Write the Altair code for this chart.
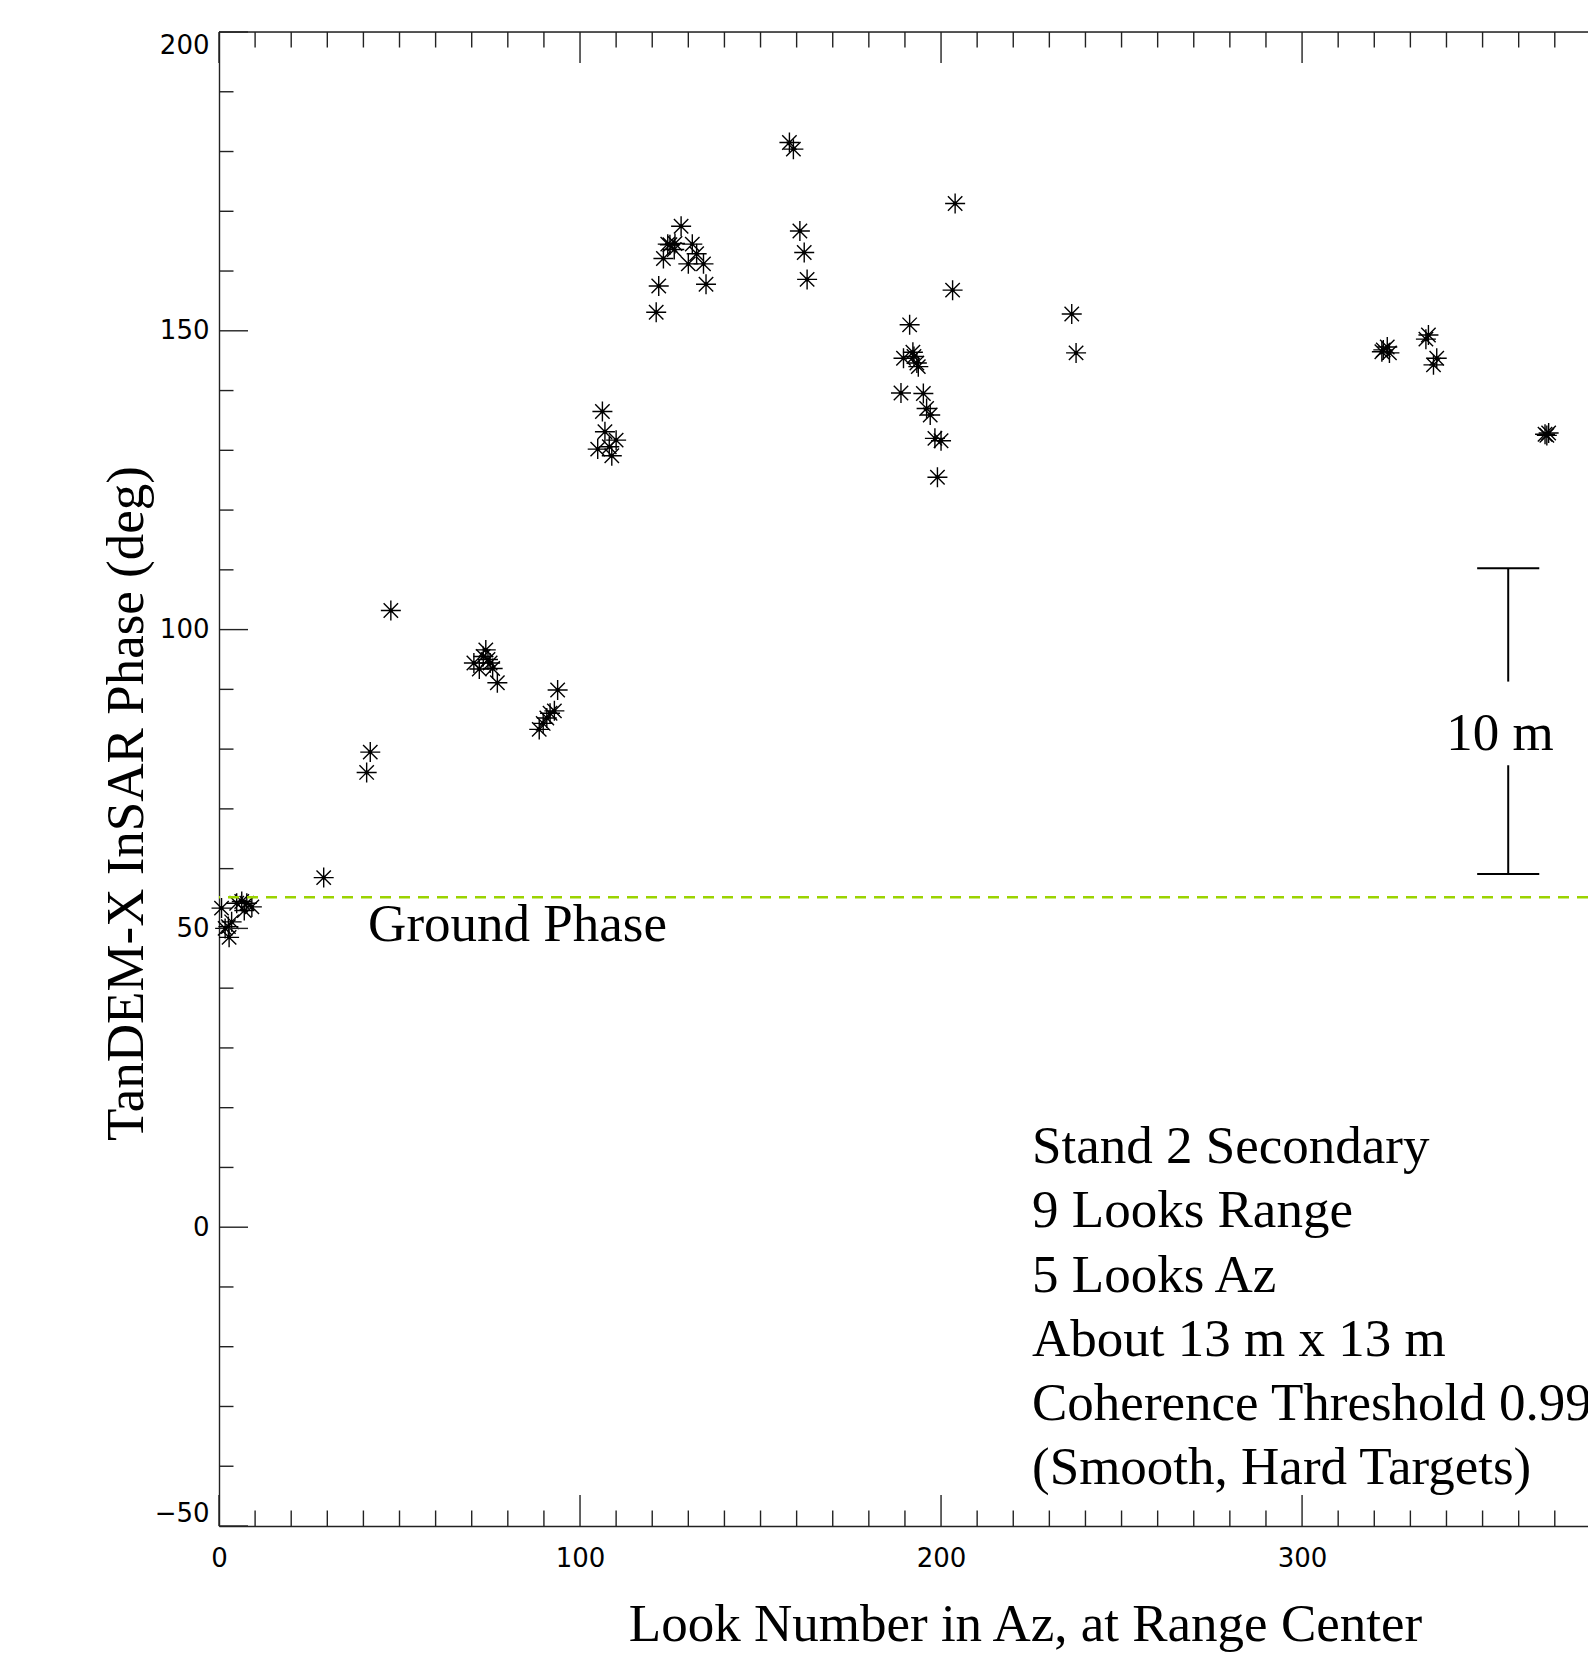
import altair as alt
import pandas as pd

# Look number (azimuth) and InSAR phase (deg) of the coherent looks
look_number = [
    0.7, 4.9, 6.3, 7.7, 9.1, 7.0, 3.5, 1.7, 2.6, 2.8,
    29.0, 40.9, 41.9, 47.6,
    73.9, 73.2, 70.6, 72.1, 75.1, 75.8, 77.1, 74.5,
    93.8, 92.9, 91.7, 90.8, 89.8, 88.7,
    106.2, 106.9, 110.0, 108.1, 104.9, 108.8,
    128.0, 124.3, 124.9, 126.3, 126.1, 131.1, 132.3, 130.0, 134.2, 123.1, 121.8, 134.9, 121.1,
    158.0, 159.1, 160.9, 162.1, 162.9,
    203.9, 203.2, 191.3, 192.2, 189.6, 193.3, 192.5, 193.7, 188.9, 195.1, 196.0, 197.0, 198.3, 200.0, 199.0,
    236.2, 237.4,
    322.5, 323.6, 324.2, 322.1, 335.0, 334.3, 337.3, 336.4,
    367.3, 367.8, 368.3,
]
phase_deg = [
    53.4, 54.2, 54.5, 54.2, 53.6, 53.0, 51.1, 50.0, 50.3, 48.5,
    58.5, 76.1, 79.5, 103.2,
    96.6, 95.5, 94.4, 93.4, 94.4, 93.5, 91.1, 95.0,
    89.9, 86.4, 86.0, 85.2, 84.3, 83.3,
    136.5, 133.1, 131.7, 130.6, 130.2, 129.1,
    167.5, 164.5, 164.4, 164.6, 163.6, 164.5, 162.9, 161.2, 161.2, 162.1, 157.5, 157.8, 153.1,
    181.5, 180.4, 166.7, 163.1, 158.6,
    171.3, 156.8, 151.0, 146.4, 145.4, 144.6, 145.7, 144.0, 139.6, 139.5, 137.0, 135.9, 132.0, 131.6, 125.5,
    152.8, 146.3,
    146.8, 147.3, 146.3, 146.5, 149.3, 148.6, 145.4, 144.3,
    132.7, 132.5, 132.9,
]

GROUND_PHASE = 55.2

# 10 m height bar (phase units)
bar_x = 357.1
bar_cap_half = 8.6
bar_top, bar_bottom = 110.25, 59.1
bar_gap_top, bar_gap_bottom = 91.3, 77.3

info_lines = [
    "Stand 2 Secondary",
    "9 Looks Range",
    "5 Looks Az",
    "About 13 m x 13 m",
    "Coherence Threshold 0.99",
    "(Smooth, Hard Targets)",
]

x_major = [0, 100, 200, 300]
x_minor = [v for v in range(10, 380, 10) if v % 100 != 0]
y_major = [-50, 0, 50, 100, 150, 200]
y_minor = [v for v in range(-40, 200, 10) if v % 50 != 0]

X_MAX = 379.2
W, H = 1369, 1494
INK = "#000000"
AXIS_INK = "#222222"
SERIF = "Liberation Serif"
SANS = "DejaVu Sans"
TEXT_SIZE = 53
TICK_SIZE = 26

xs = alt.Scale(domain=[0, X_MAX], nice=False, zero=False)
ys = alt.Scale(domain=[-50, 200], nice=False, zero=False)

STAR = "M-1,0L1,0M0,-1L0,1M-0.72,-0.72L0.72,0.72M-0.72,0.72L0.72,-0.72"

pts = pd.DataFrame({"look": look_number, "phase": phase_deg})

x_axis = alt.Axis(
    values=x_major, ticks=False, grid=False, domain=True,
    domainColor=AXIS_INK, domainWidth=1.4,
    labelFont=SANS, labelFontSize=TICK_SIZE, labelColor=INK, labelPadding=19,
    labelFlush=False,
    title="Look Number in Az, at Range Center",
    titleFont=SERIF, titleFontSize=TEXT_SIZE, titleFontWeight="normal", titleColor=INK,
    titleX=806, titleY=114, titleAlign="center", titleBaseline="alphabetic",
)
y_axis = alt.Axis(
    values=y_major, ticks=False, grid=False, domain=True,
    domainColor=AXIS_INK, domainWidth=1.4,
    labelFont=SANS, labelFontSize=TICK_SIZE, labelColor=INK, labelPadding=10,
    labelFlush=True,
    title="TanDEM-X InSAR Phase (deg)",
    titleFont=SERIF, titleFontSize=TEXT_SIZE, titleFontWeight="normal", titleColor=INK,
    titleX=-77, titleY=771, titleAngle=270, titleAlign="center",
    titleBaseline="alphabetic",
)

stars = alt.Chart(pts).mark_point(
    shape=STAR, filled=False, size=400, stroke=INK, strokeWidth=1.4, opacity=1
).encode(
    x=alt.X("look:Q", scale=xs, axis=x_axis),
    y=alt.Y("phase:Q", scale=ys, axis=y_axis),
)
centers = alt.Chart(pts).mark_point(
    shape="circle", filled=True, size=16, color=INK, opacity=1
).encode(
    x=alt.X("look:Q", scale=xs, axis=None),
    y=alt.Y("phase:Q", scale=ys, axis=None),
)

ground = alt.Chart(pd.DataFrame({"phase": [GROUND_PHASE]})).mark_rule(
    color="#9BD300", strokeWidth=2.6, strokeDash=[11, 8]
).encode(y=alt.Y("phase:Q", scale=ys, axis=None))

ground_label = alt.Chart(pd.DataFrame({"x": [41.3], "y": [47.9]})).mark_text(
    text="Ground Phase", font=SERIF, fontSize=TEXT_SIZE, align="left",
    baseline="alphabetic", color=INK,
).encode(
    x=alt.X("x:Q", scale=xs, axis=None),
    y=alt.Y("y:Q", scale=ys, axis=None),
)

bar_stems = alt.Chart(pd.DataFrame({
    "x": [bar_x, bar_x],
    "y": [bar_top, bar_gap_bottom],
    "y2": [bar_gap_top, bar_bottom],
})).mark_rule(color=INK, strokeWidth=2).encode(
    x=alt.X("x:Q", scale=xs, axis=None),
    y=alt.Y("y:Q", scale=ys, axis=None),
    y2="y2:Q",
)
bar_caps = alt.Chart(pd.DataFrame({
    "x": [bar_x - bar_cap_half] * 2,
    "x2": [bar_x + bar_cap_half] * 2,
    "y": [bar_top, bar_bottom],
})).mark_rule(color=INK, strokeWidth=2).encode(
    x=alt.X("x:Q", scale=xs, axis=None),
    x2="x2:Q",
    y=alt.Y("y:Q", scale=ys, axis=None),
)
bar_label = alt.Chart(pd.DataFrame({"x": [354.8], "y": [79.9]})).mark_text(
    text="10 m", font=SERIF, fontSize=TEXT_SIZE, align="center",
    baseline="alphabetic", color=INK,
).encode(
    x=alt.X("x:Q", scale=xs, axis=None),
    y=alt.Y("y:Q", scale=ys, axis=None),
)

info = alt.Chart(pd.DataFrame({"x": [225.2], "y": [10.7]})).mark_text(
    text=info_lines, font=SERIF, fontSize=TEXT_SIZE, lineHeight=64.2, align="left",
    baseline="alphabetic", color=INK,
).encode(
    x=alt.X("x:Q", scale=xs, axis=None),
    y=alt.Y("y:Q", scale=ys, axis=None),
)


# Inward-pointing ticks on the bottom, top and left edges
def x_ticks(values, length, top):
    y0 = 0 if top else H
    y1 = length if top else H - length
    return alt.Chart(pd.DataFrame({"t": values})).mark_rule(
        color=AXIS_INK, strokeWidth=1.4
    ).encode(
        x=alt.X("t:Q", scale=xs, axis=None),
        y=alt.value(y0), y2=alt.value(y1),
    )


def y_ticks(values, length):
    return alt.Chart(pd.DataFrame({"t": values})).mark_rule(
        color=AXIS_INK, strokeWidth=1.4
    ).encode(
        y=alt.Y("t:Q", scale=ys, axis=None),
        x=alt.value(0), x2=alt.value(length),
    )


top_border = alt.Chart(pd.DataFrame({"t": [0]})).mark_rule(
    color=AXIS_INK, strokeWidth=1.4
).encode(x=alt.value(0), x2=alt.value(W), y=alt.value(0))

chart = alt.layer(
    stars,
    top_border,
    x_ticks(x_major, 31, False), x_ticks(x_minor, 15.5, False),
    x_ticks(x_major, 31, True), x_ticks(x_minor, 15.5, True),
    y_ticks(y_major, 29), y_ticks(y_minor, 14.5),
    ground, ground_label,
    bar_stems, bar_caps, bar_label,
    info,
    centers,
).resolve_axis(
    x="independent", y="independent"
).properties(
    width=W, height=H,
    autosize=alt.AutoSizeParams(type="none"),
    padding={"left": 219, "top": 32, "right": 0, "bottom": 134},
).configure_view(stroke=None).configure(background="white")

chart.save("out.html", embed_options={"renderer": "svg", "actions": False})
